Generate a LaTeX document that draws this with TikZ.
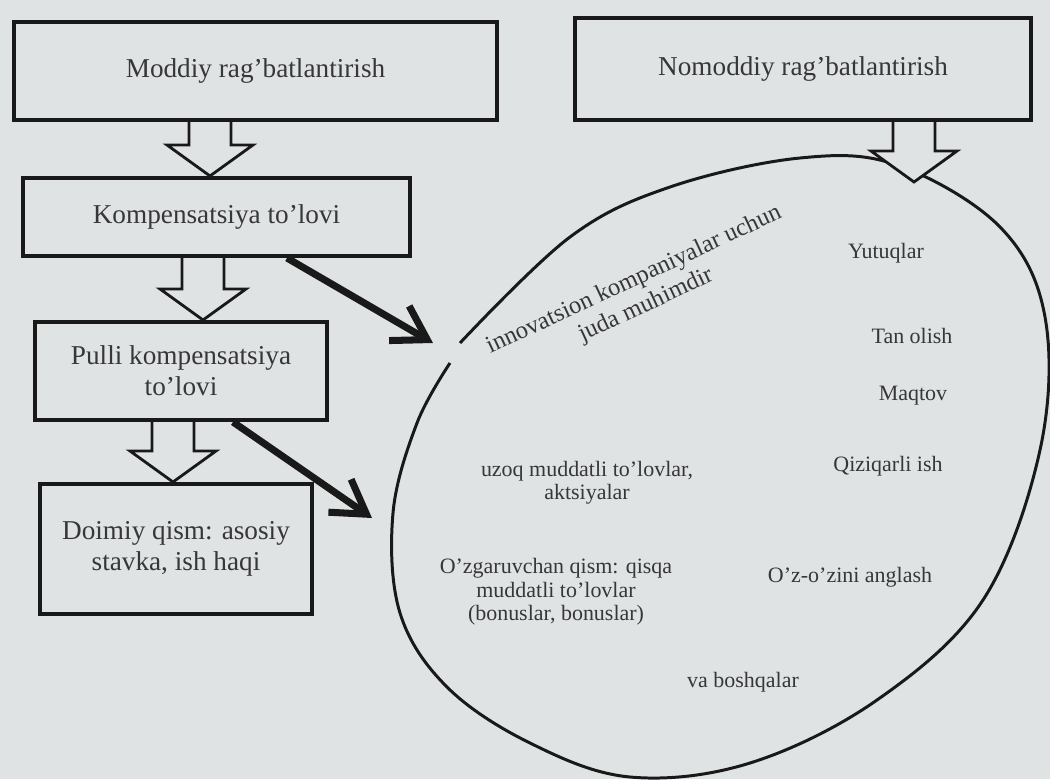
\documentclass[tikz,border=0pt]{standalone}
\usepackage{fontspec}
\setmainfont{Liberation Serif}
\usetikzlibrary{arrows.meta,calc}

\definecolor{paper}{RGB}{224,227,228}
\definecolor{ink}{RGB}{25,25,25}
\definecolor{print}{RGB}{55,55,55}

\tikzset{
  box/.style={draw=ink, line width=2.3pt, fill=paper, align=center, text=print,
    font=\fontsize{15.5}{17.5}\selectfont, inner sep=0pt},
  intext/.style={align=center, text=print, font=\fontsize{12.5}{13.3}\selectfont, inner sep=0pt},
  hollow/.style={draw=ink, line width=1.6pt, fill=paper, line join=miter},
  oval/.style={draw=ink, line width=1.7pt},
  push/.style={draw=ink, line width=4pt, -{Straight Barb[length=6.5mm,width=8mm]}}
}

% block arrow pointing down: x, from node, to point
\newcommand{\hollowarrow}[3]{%
  \path (#1,0 |- #2.south) coordinate (tail) (#1,0 |- #3) coordinate (tip);
  \draw[hollow] ($(tail)+(-21,0)$) -- ($(tip)+(-21,31)$) -- ($(tip)+(-43,31)$) -- (tip)
    -- ($(tip)+(43,31)$) -- ($(tip)+(21,31)$) -- ($(tail)+(21,0)$);
}

\begin{document}
\begin{tikzpicture}[x=0.02cm, y=0.02cm]
  \useasboundingbox (0,0) rectangle (1050,779);
  \fill[paper] (0,0) rectangle (1050,779);

  % left column
  \node[box, minimum width=9.66cm, minimum height=1.96cm] (moddiy) at (255.5,708) {Moddiy rag'batlantirish};
  \node[box, minimum width=7.74cm, minimum height=1.56cm] (komp)   at (216.5,562) {Kompensatsiya to'lovi};
  \node[box, minimum width=5.84cm, minimum height=1.96cm] (pulli)  at (181,408)   {Pulli kompensatsiya\\to'lovi};
  \node[box, minimum width=5.44cm, minimum height=2.6cm]  (doimiy) at (176,230)   {Doimiy qism: asosiy\\stavka, ish haqi};

  % right column
  \node[box, minimum width=9.12cm, minimum height=2.04cm] (nomoddiy) at (803,710) {Nomoddiy rag'batlantirish};

  % the oval, open at the left
  \draw[oval] plot[smooth, tension=0.6] coordinates {(460,436) (570,542) (670,592) (800,621) (897,614)
    (1000,552) (1045,462) (1040,329) (983,179) (877,79) (750,16) (630,2) (530,36) (447,92)
    (400,166) (393,266) (417,356) (450,416)};
  \coordinate (topin)  at (914,597);
  \coordinate (gapin)  at (433,436);
  \coordinate (sidein) at (372,261);

  % texts in the oval
  \node[intext, rotate=25, font=\fontsize{14}{16}\selectfont] (innov) at (640,486) {innovatsion kompaniyalar uchun\\juda muhimdir};
  \node[intext] (yutuq)    at (886,526) {Yutuqlar};
  \node[intext] (tanolish) at (912,443) {Tan olish};
  \node[intext] (maqtov)   at (913,383) {Maqtov};
  \node[intext] (qiziq)    at (888,313) {Qiziqarli ish};
  \node[intext] (uzoq)     at (587,296) {uzoq muddatli to'lovlar,\\aktsiyalar};
  \node[intext] (ozgar)    at (556,187) {O'zgaruvchan qism: qisqa\\muddatli to'lovlar\\(bonuslar, bonuslar)};
  \node[intext] (ozini)    at (850,202) {O'z-o'zini anglash};
  \node[intext] (boshqa)   at (743,97)  {va boshqalar};

  % block arrows
  \hollowarrow{210}{moddiy}{komp.north}
  \hollowarrow{203}{komp}{pulli.north}
  \hollowarrow{173}{pulli}{doimiy.north}
  \hollowarrow{914}{nomoddiy}{topin}

  % thick arrows
  \draw[push] (287,0 |- komp.south) -- (gapin);
  \draw[push] (233,0 |- pulli.south) -- (sidein);
\end{tikzpicture}
\end{document}
